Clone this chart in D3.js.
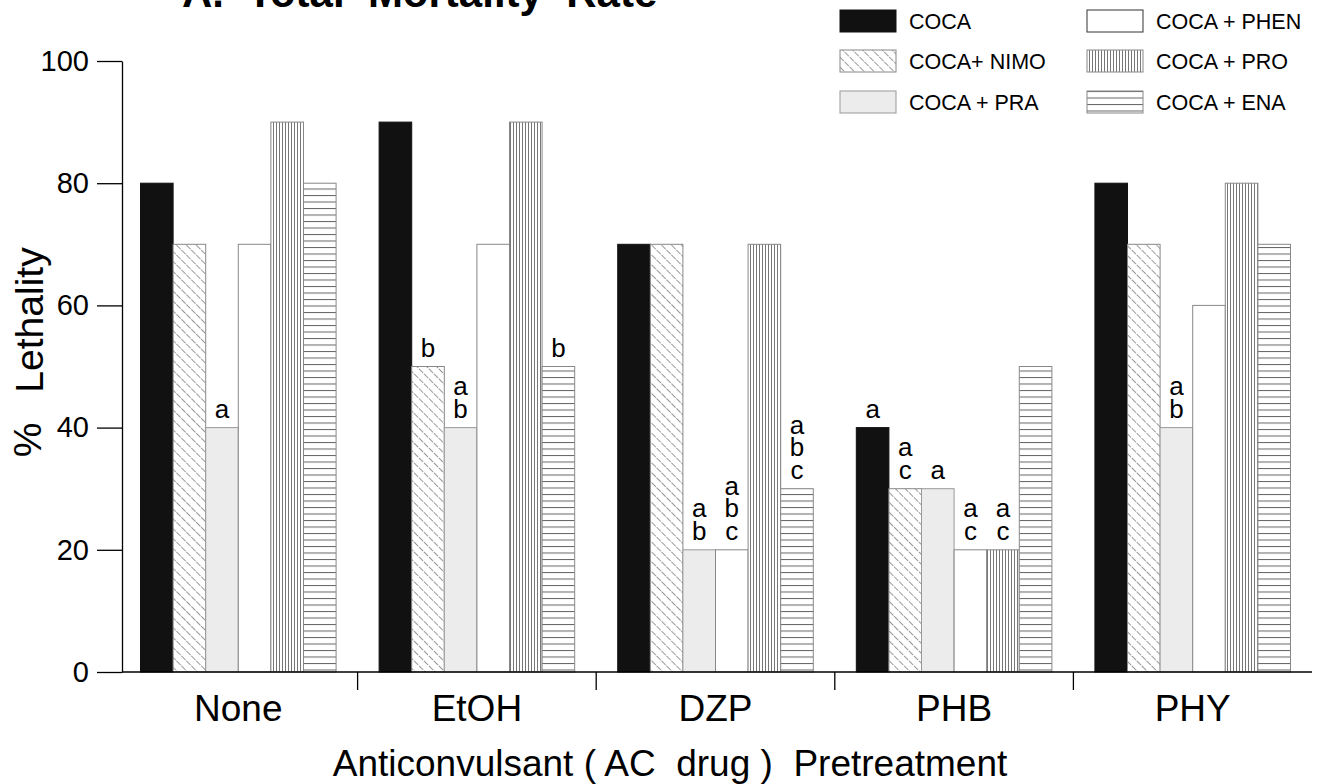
<!DOCTYPE html>
<html>
<head>
<meta charset="utf-8">
<script src="https://cdn.jsdelivr.net/npm/d3@7"></script>
<style>
  html, body { margin: 0; padding: 0; background: #fff; }
  svg { display: block; font-family: 'Liberation Sans', Arial, Helvetica, sans-serif; }
</style>
</head>
<body>
<div id="chart"></div>
<script>
const categories = ['None', 'EtOH', 'DZP', 'PHB', 'PHY'];
const series = ['COCA', 'COCA+ NIMO', 'COCA + PRA', 'COCA + PHEN', 'COCA + PRO', 'COCA + ENA'];

// % lethality per AC drug, one array per cocaine treatment
const coca = [80, 90, 70, 40, 80];
const cocaNimo = [70, 50, 70, 30, 70];
const cocaPra = [40, 40, 20, 30, 40];
const cocaPhen = [70, 70, 20, 20, 60];
const cocaPro = [90, 90, 70, 20, 80];
const cocaEna = [80, 50, 30, 50, 70];

// significance letters above bars
const cocaSig = ['', '', '', 'a', ''];
const cocaNimoSig = ['', 'b', '', 'ac', ''];
const cocaPraSig = ['a', 'ab', 'ab', 'a', 'ab'];
const cocaPhenSig = ['', '', 'abc', 'ac', ''];
const cocaProSig = ['', '', '', 'ac', ''];
const cocaEnaSig = ['', 'b', 'abc', '', ''];

const yTicks = [0, 20, 40, 60, 80, 100];

const seriesValues = [coca, cocaNimo, cocaPra, cocaPhen, cocaPro, cocaEna];
const seriesSig = [cocaSig, cocaNimoSig, cocaPraSig, cocaPhenSig, cocaProSig, cocaEnaSig];

const width = 1319;
const height = 784;

const svg = d3.select('#chart')
  .append('svg')
  .attr('width', width)
  .attr('height', height);

// fill patterns
const defs = svg.append('defs');

defs.append('pattern')
  .attr('id', 'p-nimo')
  .attr('patternUnits', 'userSpaceOnUse')
  .attr('width', 7)
  .attr('height', 7)
  .attr('patternTransform', 'rotate(-45)')
  .call(p => {
    p.append('rect').attr('width', 7).attr('height', 7).attr('fill', '#fff');
    p.append('line')
      .attr('x1', 0).attr('y1', 0).attr('x2', 0).attr('y2', 7)
      .attr('stroke', '#444').attr('stroke-width', 1.1)
      .attr('stroke-dasharray', '3,1');
  });

defs.append('pattern')
  .attr('id', 'p-pro')
  .attr('patternUnits', 'userSpaceOnUse')
  .attr('width', 3)
  .attr('height', 10)
  .call(p => {
    p.append('rect').attr('width', 3).attr('height', 10).attr('fill', '#fff');
    p.append('line')
      .attr('x1', 0.5).attr('y1', 0).attr('x2', 0.5).attr('y2', 10)
      .attr('stroke', '#777').attr('stroke-width', 1);
  });

defs.append('pattern')
  .attr('id', 'p-ena')
  .attr('patternUnits', 'userSpaceOnUse')
  .attr('width', 10)
  .attr('height', 6.5)
  .call(p => {
    p.append('rect').attr('width', 10).attr('height', 6.5).attr('fill', '#fff');
    p.append('line')
      .attr('x1', 0).attr('y1', 0.5).attr('x2', 10).attr('y2', 0.5)
      .attr('stroke', '#666').attr('stroke-width', 1);
  });

const fills = ['#111', 'url(#p-nimo)', '#ececec', '#fff', 'url(#p-pro)', 'url(#p-ena)'];
const strokes = ['#111', '#888', '#999', '#888', '#888', '#888'];

// scales
const x0 = d3.scaleBand()
  .domain(categories)
  .range([119, 1312])
  .paddingInner(0)
  .paddingOuter(0);

const x1 = d3.scaleBand()
  .domain(series)
  .range([0, x0.bandwidth()])
  .paddingInner(0)
  .paddingOuter(0.66);

const y = d3.scaleLinear()
  .domain([0, 100])
  .range([672, 61]);

// title (cut off at the top of the figure)
svg.append('text')
  .attr('x', 182)
  .attr('y', 7)
  .attr('font-size', 42)
  .attr('font-weight', 'bold')
  .style('white-space', 'pre')
  .text('A.  Total  Mortality  Rate');

// y axis
const yAxis = d3.axisLeft(y)
  .tickValues(yTicks)
  .tickSize(25)
  .tickPadding(8)
  .tickSizeOuter(0);

svg.append('g')
  .attr('class', 'chart-axis chart-axis--y')
  .attr('transform', 'translate(122, 0)')
  .call(yAxis)
  .call(g => g.selectAll('text').attr('font-size', 29).attr('fill', '#000').attr('font-family', null))
  .call(g => g.selectAll('line, path').attr('stroke', '#000').attr('stroke-width', 1.3));

// bars
const rows = [];
categories.forEach((cat, ci) => {
  series.forEach((s, si) => {
    rows.push({ cat, s, si, value: seriesValues[si][ci], sig: seriesSig[si][ci] });
  });
});

const bars = svg.append('g').attr('class', 'chart-bars');

bars.selectAll('.chart-bar')
  .data(rows)
  .enter()
  .append('rect')
  .attr('class', 'chart-bar')
  .attr('x', d => x0(d.cat) + x1(d.s))
  .attr('y', d => y(d.value))
  .attr('width', x1.bandwidth())
  .attr('height', d => y(0) - y(d.value))
  .attr('fill', d => fills[d.si])
  .attr('stroke', d => strokes[d.si])
  .attr('stroke-width', 1);

// significance letters, stacked above the bar (one text per bar)
const lineGap = 22.5;
const sig = svg.append('g')
  .attr('class', 'chart-sig')
  .selectAll('text')
  .data(rows.filter(d => d.sig))
  .enter()
  .append('text')
  .attr('text-anchor', 'middle')
  .attr('font-size', 26)
  .attr('x', d => x0(d.cat) + x1(d.s) + x1.bandwidth() / 2)
  .attr('y', d => y(d.value) - 10 - (d.sig.length - 1) * lineGap);

sig.each(function (d) {
  const cx = x0(d.cat) + x1(d.s) + x1.bandwidth() / 2;
  d3.select(this)
    .selectAll('tspan')
    .data(d.sig.split(''))
    .enter()
    .append('tspan')
    .attr('x', cx)
    .attr('dy', (l, i) => (i === 0 ? 0 : lineGap))
    .text(l => l);
});

// x axis baseline and group separators
svg.append('line')
  .attr('x1', 122).attr('x2', 1312)
  .attr('y1', y(0)).attr('y2', y(0))
  .attr('stroke', '#000').attr('stroke-width', 1.3);

svg.append('g')
  .selectAll('line')
  .data(categories.slice(1))
  .enter()
  .append('line')
  .attr('x1', d => x0(d)).attr('x2', d => x0(d))
  .attr('y1', y(0)).attr('y2', y(0) + 18)
  .attr('stroke', '#000').attr('stroke-width', 1.3);

svg.append('g')
  .selectAll('text')
  .data(categories)
  .enter()
  .append('text')
  .attr('x', d => x0(d) + x0.bandwidth() / 2)
  .attr('y', 721)
  .attr('text-anchor', 'middle')
  .attr('font-size', 37)
  .text(d => d);

svg.append('text')
  .attr('x', 670)
  .attr('y', 776)
  .attr('text-anchor', 'middle')
  .attr('font-size', 37)
  .style('white-space', 'pre')
  .text('Anticonvulsant ( AC  drug )  Pretreatment');

// y axis title
svg.append('text')
  .attr('transform', 'translate(41, 440) rotate(-90)')
  .attr('text-anchor', 'middle')
  .attr('font-size', 39)
  .text('%');

svg.append('text')
  .attr('transform', 'translate(43, 320) rotate(-90)')
  .attr('text-anchor', 'middle')
  .attr('font-size', 39)
  .text('Lethality');

// legend
const legendCols = [840, 1087];
const legendRows = [10, 50, 91];
const legend = svg.append('g').attr('class', 'chart-legend');

series.forEach((s, si) => {
  const lx = legendCols[Math.floor(si / 3)];
  const ly = legendRows[si % 3];
  legend.append('rect')
    .attr('x', lx)
    .attr('y', ly)
    .attr('width', 56)
    .attr('height', 22)
    .attr('fill', fills[si])
    .attr('stroke', si === 3 ? '#333' : strokes[si])
    .attr('stroke-width', 1);
  legend.append('text')
    .attr('x', lx + 69)
    .attr('y', ly + 19)
    .attr('font-size', 21.5)
    .text(s);
});
</script>
</body>
</html>
